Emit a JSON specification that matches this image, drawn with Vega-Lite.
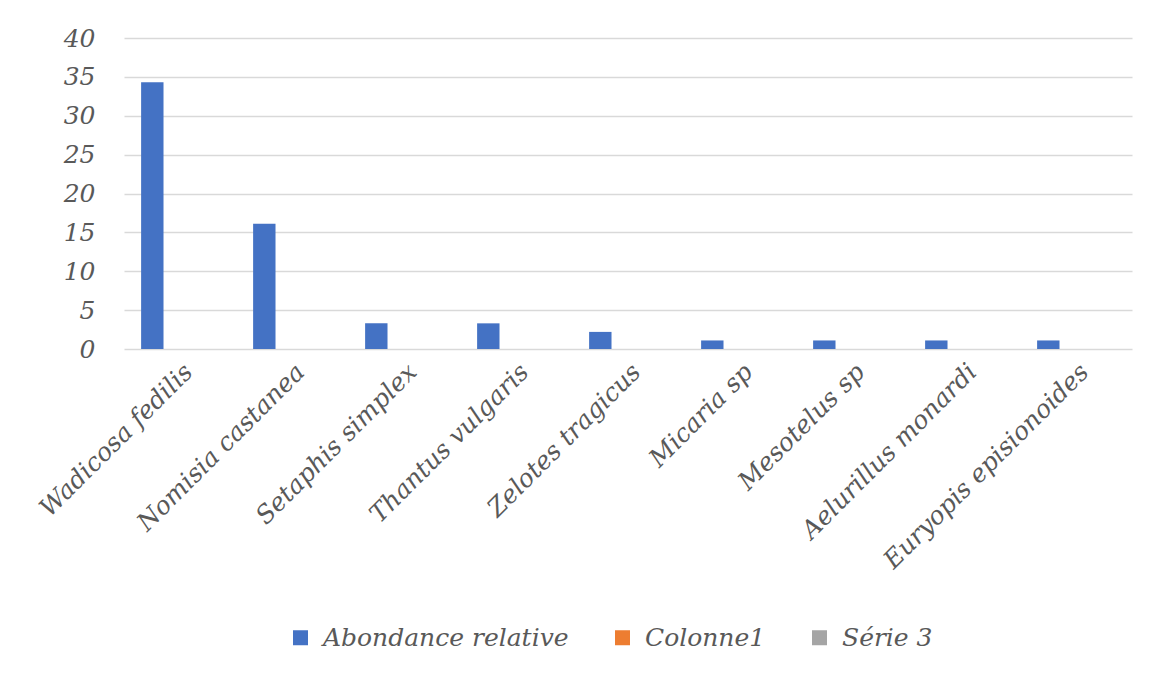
{
  "$schema": "https://vega.github.io/schema/vega-lite/v6.json",
  "width": 1008,
  "height": 311,
  "autosize": {"type": "none"},
  "padding": {"left": 124, "top": 38, "right": 17, "bottom": 326},
  "background": "white",
  "data": {
    "values": [
      {"species": "Wadicosa fedilis", "series": "Abondance relative", "value": 34.3},
      {"species": "Nomisia castanea", "series": "Abondance relative", "value": 16.1},
      {"species": "Setaphis simplex", "series": "Abondance relative", "value": 3.3},
      {"species": "Thantus vulgaris", "series": "Abondance relative", "value": 3.3},
      {"species": "Zelotes tragicus", "series": "Abondance relative", "value": 2.2},
      {"species": "Micaria sp", "series": "Abondance relative", "value": 1.1},
      {"species": "Mesotelus sp", "series": "Abondance relative", "value": 1.1},
      {"species": "Aelurillus monardi", "series": "Abondance relative", "value": 1.1},
      {"species": "Euryopis episionoides", "series": "Abondance relative", "value": 1.1}
    ]
  },
  "mark": {"type": "bar"},
  "encoding": {
    "x": {
      "field": "species",
      "type": "nominal",
      "sort": null,
      "scale": {"paddingInner": 0, "paddingOuter": 0},
      "axis": {
        "title": null,
        "domain": false,
        "ticks": false,
        "grid": false,
        "labelAngle": -45,
        "labelAlign": "right",
        "labelBaseline": "top",
        "labelPadding": 10,
        "labelDx": -14,
        "labelFont": "DejaVu Serif",
        "labelFontStyle": "italic",
        "labelFontSize": 25,
        "labelColor": "#595959",
        "labelLimit": 0
      }
    },
    "xOffset": {
      "field": "series",
      "type": "nominal",
      "scale": {
        "domain": ["Abondance relative", "Colonne1", "Série 3"],
        "paddingInner": 0,
        "paddingOuter": 1.447,
        "align": 0.382
      }
    },
    "y": {
      "field": "value",
      "type": "quantitative",
      "scale": {"domain": [0, 40], "nice": false},
      "axis": {
        "title": null,
        "values": [0, 5, 10, 15, 20, 25, 30, 35, 40],
        "domain": false,
        "ticks": false,
        "grid": true,
        "gridColor": "#d9d9d9",
        "gridWidth": 1.5,
        "labelPadding": 29,
        "labelFont": "DejaVu Serif",
        "labelFontStyle": "italic",
        "labelFontSize": 25,
        "labelColor": "#595959"
      }
    },
    "color": {
      "field": "series",
      "type": "nominal",
      "scale": {
        "domain": ["Abondance relative", "Colonne1", "Série 3"],
        "range": ["#4472C4", "#ED7D31", "#A5A5A5"]
      },
      "legend": {
        "title": null,
        "orient": "none",
        "direction": "horizontal",
        "legendX": 164,
        "legendY": 587,
        "padding": 0,
        "symbolType": "square",
        "symbolSize": 225,
        "symbolStrokeWidth": 0,
        "labelOffset": 10,
        "columnPadding": 41,
        "labelFont": "DejaVu Serif",
        "labelFontStyle": "italic",
        "labelFontSize": 25,
        "labelColor": "#595959",
        "labelLimit": 0
      }
    }
  },
  "config": {
    "view": {"stroke": null}
  }
}
